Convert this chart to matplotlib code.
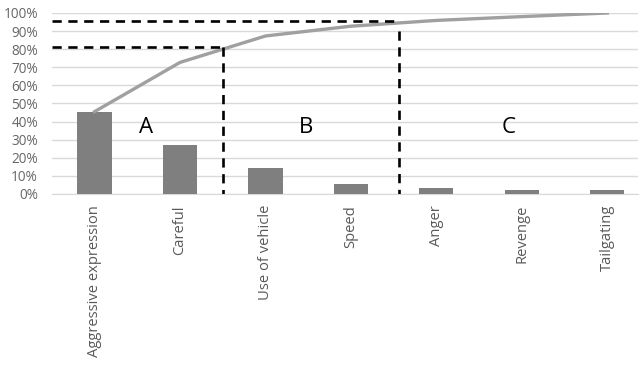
import matplotlib
matplotlib.use("Agg")
import matplotlib.pyplot as plt
from matplotlib.ticker import PercentFormatter

categories = ["Aggressive expression", "Careful", "Use of vehicle", "Speed", "Anger", "Revenge", "Tailgating"]
share = [45.5, 27.2, 14.6, 5.4, 3.2, 2.1, 2.0]
cumulative = [45.5, 72.7, 87.3, 92.7, 95.9, 98.0, 100.0]
yticks = list(range(0, 101, 10))
zones = ["A", "B", "C"]

plt.rcParams['font.family'] = ['Open Sans', 'DejaVu Sans']

fig = plt.figure(figsize=(6.4, 3.67), dpi=100)
ax = fig.add_axes([0.081, 0.4714, 0.916, 0.4932])

x = list(range(len(categories)))
ax.bar(x, share, width=0.4, color="#7f7f7f", zorder=3)
ax.plot(x, cumulative, color="#a0a0a0", linewidth=2.4, zorder=4)

# ABC boundaries
dash = dict(color="black", linestyle=(0, (3.5, 2.5)), linewidth=1.9, zorder=5)
ax.plot([-0.5, 1.5], [81, 81], **dash)
ax.plot([1.5, 1.5], [81, 0], **dash)
ax.plot([-0.5, 3.56], [95.8, 95.8], **dash)
ax.plot([3.56, 3.56], [90, 0], **dash)

for lab, xp in zip(zones, [0.6, 2.47, 4.84]):
    ax.text(xp, 37, lab, fontsize=16, ha="center", va="center", color="black")

ax.set_xlim(-0.5, 6.36)
ax.set_ylim(0, 100)
ax.set_yticks(yticks)
ax.yaxis.set_major_formatter(PercentFormatter(decimals=0))
ax.set_xticks(x)
ax.set_xticklabels(categories, rotation=90, fontsize=10.6, color="#595959")
ax.tick_params(axis='y', labelsize=9.8, labelcolor="#666666", length=0, pad=10)
ax.tick_params(axis='x', length=0, pad=8)
ax.grid(axis='y', color="#d9d9d9", linewidth=1, zorder=0)
for s in ["top", "right", "left"]:
    ax.spines[s].set_visible(False)
ax.spines["bottom"].set_color("#d9d9d9")

fig.savefig("out.png", dpi=100)
